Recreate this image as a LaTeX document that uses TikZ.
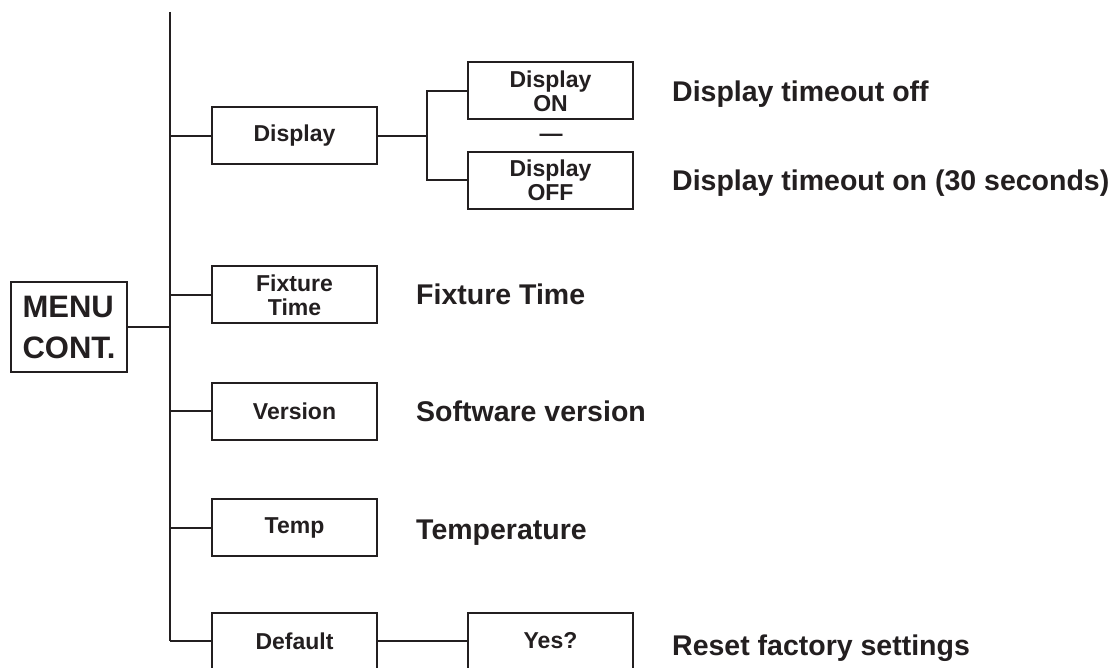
\documentclass[tikz,border=0pt]{standalone}
\usepackage{fontspec}
\setmainfont{Liberation Sans}
\begin{document}
\begin{tikzpicture}[x=1pt,y=-1pt,
  every node/.style={text=ink},
  ln/.style={draw=ink,line width=2pt},
  menubox/.style={draw=ink,line width=2pt,minimum width=165pt,minimum height=57pt,inner sep=0pt,
     font=\fontsize{23}{24}\selectfont\bfseries,align=center},
  bigbox/.style={draw=ink,line width=2pt,minimum width=116pt,minimum height=90pt,inner sep=0pt,
     font=\fontsize{31}{41}\selectfont\bfseries,align=left},
  lbl/.style={anchor=base west,inner sep=0pt,font=\fontsize{28.5}{30}\selectfont\bfseries}]
\definecolor{ink}{HTML}{231F20}
\useasboundingbox (0,0) rectangle (1119,668);
\fill[white] (0,0) rectangle (1119,668);

\node[bigbox] (menu) at (69,327) {MENU\\CONT.};
\coordinate (ttop) at (170,12);
\coordinate (tbot) at (170,641);
\draw[ln] (ttop) -- (tbot);
\draw[ln] (menu.east) -- (menu.east -| ttop);

\node[menubox] (disp) at (294.5,136) {Display};
\node[menubox] (fix) at (294.5,295) {Fixture\\Time};
\node[menubox] (ver) at (294.5,411) {Version};
\node[menubox] (temp) at (294.5,527.5) {Temp};
\node[menubox] (def) at (294.5,641) {Default};

\foreach \n in {disp,fix,ver,temp,def}
  \draw[ln] (\n.west -| ttop) -- (\n.west);

\node[menubox] (on) at (550.5,91) {Display\\ON};
\node[menubox] (off) at (550.5,180.5) {Display\\OFF};
\node[inner sep=0pt,font=\fontsize{23}{24}\selectfont\bfseries] (dash) at (551,138) {—};
\coordinate (j1) at (427,136);
\draw[ln] (disp.east) -- (j1);
\draw[ln] (on.west) -| (j1) |- (off.west);

\node[menubox] (yes) at (550.5,641) {Yes?};
\draw[ln] (def.east) -- (yes.west);

\node[lbl] (l1) at (672,102) {Display timeout off};
\node[lbl] (l2) at (672,191) {Display timeout on (30 seconds)};
\node[lbl] (l3) at (416,305) {Fixture Time};
\node[lbl] (l4) at (416,421) {Software version};
\node[lbl] (l5) at (416,539) {Temperature};
\node[lbl] (l6) at (672,655) {Reset factory settings};
\end{tikzpicture}
\end{document}
